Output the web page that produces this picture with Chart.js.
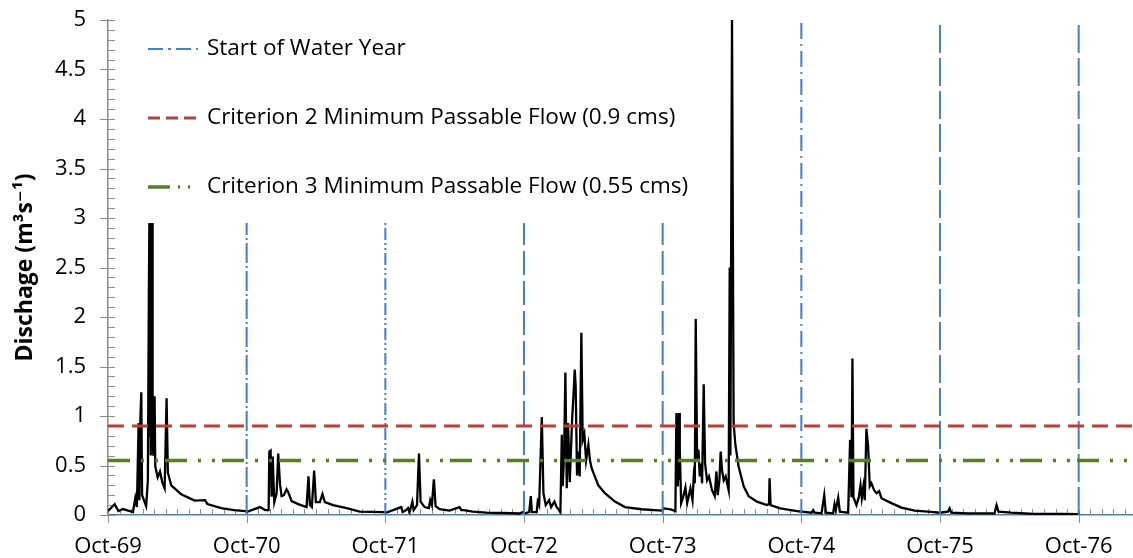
<!DOCTYPE html>
<html>
<head>
<meta charset="utf-8">
<script src="https://cdn.jsdelivr.net/npm/chart.js@4.4.1/dist/chart.umd.min.js"></script>
<style>
  html, body { margin: 0; padding: 0; background: #ffffff; }
  #wrap { width: 1133px; height: 558px; }
</style>
</head>
<body>
<div id="wrap"><canvas id="chart" width="1133" height="558"></canvas></div>
<script>
// Daily discharge record, months since 1 Oct 1969 and flow in m3/s
const flowMonths = [
  0, 0.58, 0.9, 1.3, 2.16, 2.36, 2.5, 2.65, 2.72, 2.78, 2.88, 2.95, 3.3, 3.45, 3.54, 3.58, 3.62, 3.66, 3.7, 3.74, 3.78, 3.82, 3.86, 3.92, 4.03, 4.09, 4.3, 4.5, 4.7, 4.9, 5.07, 5.18, 5.47, 6.33, 7.5, 8.4, 8.6, 9.8, 10.9, 11.9,
  12.0, 13.15, 13.6, 13.9, 13.96, 14.07, 14.16, 14.25, 14.39, 14.59, 14.73, 14.88, 15.02, 15.22, 15.45, 15.6, 15.89, 16.46, 17.18, 17.35, 17.47, 17.64, 17.84, 17.99, 18.33, 18.56, 18.76, 19.48, 20.64, 21.79, 23.8,
  24.09, 25.38, 25.5, 25.8, 25.96, 26.1, 26.34, 26.45, 26.74, 26.91, 27.05, 27.4, 27.77, 27.89, 28.03, 28.2, 28.35, 28.7, 29.56, 30.42, 30.57, 30.77, 31.57, 32.73, 34.16, 35.6, 35.9,
  36.1, 36.45, 36.59, 36.68, 37.1, 37.19, 37.31, 37.54, 37.68, 37.88, 38.17, 38.35, 38.63, 38.83, 39.15, 39.27, 39.35, 39.47, 39.58, 39.7, 39.81, 39.96, 40.16, 40.27, 40.39, 40.47, 40.59, 40.71, 40.82, 40.96, 41.08, 41.22, 41.37, 41.57, 41.71, 41.86, 42.43, 43.0, 43.87, 44.74, 46.17, 47.9,
  48.1, 48.68, 49.1, 49.19, 49.25, 49.31, 49.37, 49.42, 49.48, 49.6, 49.77, 49.97, 50.12, 50.4, 50.58, 50.69, 50.78, 50.86, 50.98, 51.09, 51.21, 51.32, 51.41, 51.55, 51.67, 51.84, 52.01, 52.27, 52.5, 52.65, 52.76, 52.91, 53.02, 53.14, 53.28, 53.45, 53.71, 53.8, 53.86, 53.92, 54.0, 54.06, 54.14, 54.28, 54.57, 55.01, 55.44, 56.16, 57.02, 57.2, 57.25, 57.34, 58.17, 59.9,
  60.02, 60.88, 61.03, 61.17, 61.75, 61.98, 62.12, 62.75, 62.87, 62.98, 63.19, 63.33, 64.05, 64.22, 64.34, 64.42, 64.51, 64.77, 64.97, 65.12, 65.23, 65.37, 65.49, 65.63, 65.78, 65.92, 66.06, 66.3, 66.5, 66.73, 66.93, 67.79, 68.66, 69.8, 70.96, 71.97, 72.69, 72.83, 72.97, 74.41, 76.72, 76.89, 77.06, 78.15, 80.17, 82.47, 84.1
];
const flowValues = [
  0.04, 0.11, 0.04, 0.06, 0.03, 0.17, 0.08, 0.93, 0.15, 0.9, 1.24, 0.2, 0.09, 0.35, 2.31, 2.95, 0.8, 2.95, 0.6, 2.95, 0.7, 2.95, 0.9, 0.6, 1.2, 0.49, 0.38, 0.44, 0.33, 0.27, 1.18, 0.43, 0.3, 0.21, 0.145, 0.15, 0.11, 0.07, 0.05, 0.04,
  0.03, 0.08, 0.05, 0.05, 0.64, 0.65, 0.185, 0.59, 0.13, 0.22, 0.62, 0.32, 0.19, 0.2, 0.26, 0.23, 0.14, 0.11, 0.08, 0.39, 0.1, 0.08, 0.45, 0.13, 0.13, 0.21, 0.13, 0.1, 0.07, 0.035, 0.03,
  0.025, 0.08, 0.03, 0.05, 0.07, 0.03, 0.135, 0.05, 0.1, 0.62, 0.135, 0.08, 0.07, 0.15, 0.1, 0.36, 0.09, 0.06, 0.045, 0.08, 0.05, 0.05, 0.035, 0.025, 0.02, 0.015, 0.03,
  0.017, 0.03, 0.19, 0.03, 0.03, 0.135, 0.1, 0.99, 0.22, 0.1, 0.15, 0.08, 0.135, 0.08, 0.03, 0.81, 0.29, 0.61, 1.44, 0.27, 0.93, 0.33, 0.96, 1.19, 1.47, 1.3, 0.4, 0.64, 0.39, 1.84, 0.76, 0.82, 0.55, 0.71, 0.55, 0.47, 0.3, 0.22, 0.135, 0.08, 0.058, 0.044,
  0.067, 0.057, 0.04, 1.03, 0.3, 1.02, 0.35, 1.03, 0.66, 0.12, 0.18, 0.28, 0.12, 0.27, 0.15, 0.39, 0.32, 1.98, 0.56, 0.66, 0.39, 0.52, 0.32, 1.32, 0.52, 0.35, 0.39, 0.25, 0.19, 0.44, 0.2, 0.35, 0.64, 0.45, 0.35, 0.39, 0.25, 2.5, 0.6, 2.5, 5.0, 5.0, 0.93, 0.72, 0.49, 0.29, 0.19, 0.135, 0.1, 0.11, 0.37, 0.1, 0.067, 0.034,
  0.034, 0.023, 0.05, 0.023, 0.017, 0.2, 0.023, 0.017, 0.11, 0.05, 0.175, 0.034, 0.023, 0.76, 0.18, 1.58, 0.18, 0.1, 0.18, 0.3, 0.17, 0.29, 0.15, 0.87, 0.69, 0.29, 0.32, 0.25, 0.22, 0.24, 0.17, 0.12, 0.075, 0.044, 0.034, 0.023, 0.034, 0.067, 0.023, 0.017, 0.017, 0.1, 0.034, 0.023, 0.01, 0.01, 0.008
];

// Start-of-water-year markers (1 October) and the height each marker is drawn to
const waterYearStarts = [12, 24, 36, 48, 60, 72, 84];
const waterYearTops = [2.95, 2.95, 2.95, 2.95, 5, 5, 5];

// Minimum passable flow criteria (cms)
const criterion2Flow = 0.9;
const criterion3Flow = 0.55;

// X tick labels, one per October
const tickMonths = [0, 12, 24, 36, 48, 60, 72, 84];
const tickLabels = ['Oct-69', 'Oct-70', 'Oct-71', 'Oct-72', 'Oct-73', 'Oct-74', 'Oct-75', 'Oct-76'];

const xMax = 88.7;
const yMax = 5;

const BLUE = '#4a7ebb';
const RED = '#b3403d';
const GREEN = '#5b7a2c';
const AXIS_GREY = '#8c8c8c';
const FONT = '"Open Sans", "DejaVu Sans", sans-serif';

const flowData = flowMonths.map((m, i) => ({ x: m, y: flowValues[i] }));
const waterYearData = [];
waterYearStarts.forEach((m, i) => {
  waterYearData.push({ x: m, y: 0 }, { x: m, y: waterYearTops[i] }, { x: m, y: null });
});
const yearDash = [[20, 3, 2, 3], [12, 3, 2, 3, 2, 3], [24, 6], [24, 6], [16, 5, 2, 5], [28, 5], [28, 5]];

// Tick marks: majors cross the axis, minors point into the plot
const axisTicks = {
  id: 'axisTicks',
  beforeDatasetsDraw(chart) {
    const { ctx, chartArea, scales } = chart;
    const x = scales.x, y = scales.y;
    ctx.save();
    ctx.strokeStyle = AXIS_GREY;
    ctx.lineWidth = 1;
    ctx.beginPath();
    for (let m = 0; m <= Math.floor(xMax); m++) {
      const px = Math.round(x.getPixelForValue(m)) + 0.5;
      if (m % 12 === 0) {
        ctx.moveTo(px, chartArea.bottom - 5);
        ctx.lineTo(px, chartArea.bottom + 8);
      } else {
        ctx.moveTo(px, chartArea.bottom - 6);
        ctx.lineTo(px, chartArea.bottom);
      }
    }
    for (let k = 0; k <= 50; k++) {
      const py = Math.round(y.getPixelForValue(k / 10)) + 0.5;
      if (k % 5 === 0) {
        ctx.moveTo(chartArea.left - 8, py);
        ctx.lineTo(chartArea.left + 7, py);
      } else {
        ctx.moveTo(chartArea.left, py);
        ctx.lineTo(chartArea.left + 7, py);
      }
    }
    ctx.stroke();
    ctx.restore();
  }
};

// Legend box drawn inside the top-left of the plot
const legendEntries = [
  { label: 'Start of Water Year', color: BLUE, width: 2, dash: [15, 5, 3, 5] },
  { label: 'Criterion 2 Minimum Passable Flow (0.9 cms)', color: RED, width: 3, dash: [12, 6] },
  { label: 'Criterion 3 Minimum Passable Flow (0.55 cms)', color: GREEN, width: 3.5, dash: [22, 8, 2, 8, 2, 8] }
];
const insideLegend = {
  id: 'insideLegend',
  afterDraw(chart) {
    const { ctx, chartArea } = chart;
    ctx.save();
    ctx.font = '22.5px ' + FONT;
    ctx.textBaseline = 'middle';
    ctx.fillStyle = '#000000';
    legendEntries.forEach((e, i) => {
      const cy = chartArea.top + 29 + i * 69;
      const x0 = chartArea.left + 40;
      ctx.save();
      ctx.strokeStyle = e.color;
      ctx.lineWidth = e.width;
      ctx.setLineDash(e.dash);
      ctx.beginPath();
      ctx.moveTo(x0, cy);
      ctx.lineTo(x0 + 50, cy);
      ctx.stroke();
      ctx.restore();
      ctx.fillText(e.label, chartArea.left + 99, cy);
    });
    ctx.restore();
  }
};

new Chart(document.getElementById('chart'), {
  type: 'line',
  data: {
    datasets: [
      {
        label: 'Criterion 2 Minimum Passable Flow (0.9 cms)',
        data: [{ x: 0, y: criterion2Flow }, { x: xMax, y: criterion2Flow }],
        borderColor: RED, borderWidth: 3, borderDash: [16, 8],
        pointRadius: 0, order: 1
      },
      {
        label: 'Criterion 3 Minimum Passable Flow (0.55 cms)',
        data: [{ x: 0, y: criterion3Flow }, { x: xMax, y: criterion3Flow }],
        borderColor: GREEN, borderWidth: 3.5, borderDash: [22, 11, 3, 11, 3, 7],
        pointRadius: 0, order: 2
      },
      {
        label: 'Start of Water Year',
        data: waterYearData,
        borderColor: BLUE, borderWidth: 2,
        segment: { borderDash: ctx => yearDash[Math.floor(ctx.p0DataIndex / 3)] },
        spanGaps: false, pointRadius: 0, order: 3
      },
      {
        label: 'Discharge',
        data: flowData,
        borderColor: '#000000', borderWidth: 2.3, tension: 0,
        pointRadius: 0, order: 4
      }
    ]
  },
  options: {
    responsive: false,
    animation: false,
    layout: { padding: { top: 20, right: 0, left: 0, bottom: 0 } },
    plugins: { legend: { display: false }, tooltip: { enabled: false } },
    scales: {
      x: {
        type: 'linear', min: 0, max: xMax,
        afterBuildTicks: s => { s.ticks = tickMonths.map(v => ({ value: v })); },
        afterFit: s => { s.height = 43; s.paddingRight = 0; },
        grid: { display: false, drawTicks: false },
        border: { display: true, color: BLUE, width: 1.5 },
        ticks: {
          padding: 19, color: '#000000', maxRotation: 0, autoSkip: false,
          font: { family: FONT, size: 22 },
          callback: v => tickLabels[tickMonths.indexOf(v)]
        }
      },
      y: {
        type: 'linear', min: 0, max: yMax,
        afterFit: s => { s.width = 108; s.paddingTop = 0; s.paddingBottom = 0; },
        grid: { display: false, drawTicks: false },
        border: { display: true, color: AXIS_GREY, width: 1.5 },
        ticks: {
          stepSize: 0.5, padding: 22, color: '#000000',
          font: { family: FONT, size: 22 },
          callback: v => String(v)
        },
        title: {
          display: true, text: 'Dischage (m³s⁻¹)', color: '#000000',
          font: { family: FONT, size: 23, weight: 'bold' }, padding: { top: 12, bottom: 0 }
        }
      }
    }
  },
  plugins: [axisTicks, insideLegend]
});
</script>
</body>
</html>
